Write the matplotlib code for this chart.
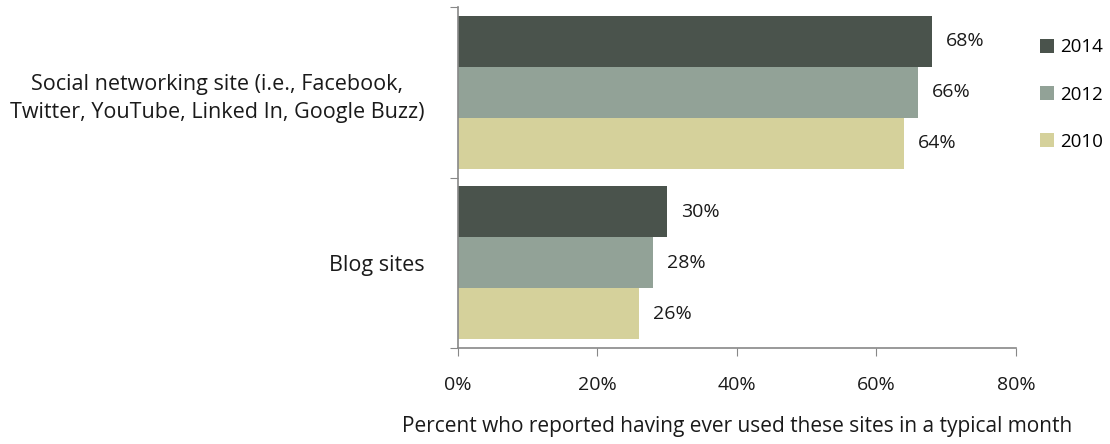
import matplotlib.pyplot as plt
import numpy as np

categories = ['Blog sites',
              'Social networking site (i.e., Facebook,\nTwitter, YouTube, Linked In, Google Buzz)']
years = ['2014', '2012', '2010']
values = {'2014': [30, 68], '2012': [28, 66], '2010': [26, 64]}
colors = {'2014': '#4a534c', '2012': '#92a297', '2010': '#d5d19b'}

plt.rcParams['font.family'] = ['Open Sans', 'DejaVu Sans']
txt = '#1a1a1a'

fig = plt.figure(figsize=(11.1, 4.44), dpi=100)
ax = fig.add_axes([0.4126, 0.2162, 0.5027, 0.7678])

ypos = np.arange(len(categories))
h = 0.3
offsets = {'2014': h, '2012': 0, '2010': -h}
for yr in years:
    bars = ax.barh(ypos + offsets[yr], values[yr], height=h, color=colors[yr], label=yr)
    for b, v in zip(bars, values[yr]):
        ax.text(v + 2, b.get_y() + b.get_height() / 2, f'{v}%', va='center', ha='left',
                fontsize=14, color=txt)

ax.set_xlim(0, 80)
ax.set_ylim(-0.5, 1.5)
ax.set_xticks([0, 20, 40, 60, 80])
ax.set_xticklabels(['0%', '20%', '40%', '60%', '80%'], fontsize=14, color=txt)
ax.set_yticks([-0.5, 0.5, 1.5])
ax.set_yticklabels([])
ax.set_yticks(ypos, minor=True)
labs = ax.set_yticklabels(categories, minor=True, fontsize=15.5, color=txt, ha='right')
for l in labs:
    l.set_multialignment('center')
    l.set_linespacing(1.45)
ax.tick_params(axis='y', which='minor', length=0, pad=24)
ax.tick_params(axis='y', which='major', length=6, color='#888888', direction='out')
ax.tick_params(axis='x', length=6, color='#888888', direction='out', pad=14)

for s in ['top', 'right']:
    ax.spines[s].set_visible(False)
for s in ['left', 'bottom']:
    ax.spines[s].set_color('#888888')
    ax.spines[s].set_linewidth(1.2)

ax.set_xlabel('Percent who reported having ever used these sites in a typical month',
              fontsize=15, color=txt, labelpad=16)

ax.legend(loc='upper left', bbox_to_anchor=(1.03, 0.93), borderaxespad=0, frameon=False,
          fontsize=13.5, handlelength=0.75, handleheight=0.75, handletextpad=0.3,
          labelspacing=1.55)

plt.savefig('out.png', dpi=100)
